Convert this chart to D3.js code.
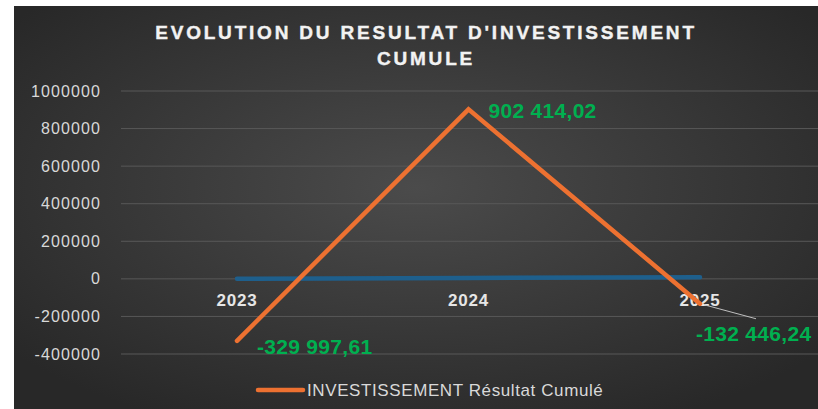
<!DOCTYPE html>
<html>
<head>
<meta charset="utf-8">
<script src="https://cdn.jsdelivr.net/npm/d3@7/dist/d3.min.js"></script>
<style>
  html, body { margin: 0; padding: 0; background: #fff; }
  svg { display: block; }
</style>
</head>
<body>
<div id="chart"></div>
<script>
/* ============================
   DATA
============================ */
const years = ["2023", "2024", "2025"];
const resultatCumule = [-329997.61, 902414.02, -132446.24];
const serieBleue = [0, 5000, 9000];          // 2e série (hors légende), proche de 0
const yTicks = [-400000, -200000, 0, 200000, 400000, 600000, 800000, 1000000];
const labels = ["-329 997,61", "902 414,02", "-132 446,24"];

/* ============================
   LAYOUT
============================ */
const W = 818, H = 409;
const box = { x: 14, y: 6 };
const plot = { left: 121, right: 818, top: 91, bottom: 354 };
const FONT = "'Liberation Sans', Arial, sans-serif";

const svg = d3.select("#chart").append("svg")
  .attr("width", W).attr("height", H);

const defs = svg.append("defs");
const grad = defs.append("radialGradient")
  .attr("id", "bg").attr("cx", "50%").attr("cy", "45%").attr("r", "65%");
grad.append("stop").attr("offset", "0%").attr("stop-color", "#4b4b4b");
grad.append("stop").attr("offset", "100%").attr("stop-color", "#282828");

svg.append("rect")
  .attr("x", box.x).attr("y", box.y)
  .attr("width", W - box.x).attr("height", H - box.y)
  .attr("fill", "url(#bg)");

/* ============================
   SCALES
============================ */
const x = d3.scalePoint().domain(years).range([237, 700]);
const y = d3.scaleLinear().domain([-400000, 1000000]).range([plot.bottom, plot.top]);

// quadrillage
svg.append("g")
  .selectAll("line")
  .data(yTicks)
  .join("line")
  .attr("x1", plot.left).attr("x2", plot.right)
  .attr("y1", d => y(d)).attr("y2", d => y(d))
  .attr("stroke", "#585858").attr("stroke-width", 1);

// axe Y (tiret simple comme Excel)
const yAxis = svg.append("g")
  .attr("transform", `translate(${plot.left - 20},0)`)
  .call(d3.axisLeft(y).tickValues(yTicks).tickSize(0).tickPadding(0).tickFormat(d => String(d)));
yAxis.select(".domain").remove();
yAxis.selectAll("text")
  .attr("fill", "#d9d9d9")
  .attr("font-family", FONT)
  .attr("font-size", 16)
  .attr("letter-spacing", 1.1);

// série bleue
const line = d3.line().x((d, i) => x(years[i])).y(d => y(d));
svg.append("path")
  .datum(serieBleue)
  .attr("d", line)
  .attr("fill", "none")
  .attr("stroke", "#1e5f8c")
  .attr("stroke-width", 4.5)
  .attr("stroke-linecap", "round");

// catégories (sur l'axe zéro)
svg.append("g")
  .selectAll("text")
  .data(years)
  .join("text")
  .attr("x", d => x(d))
  .attr("y", y(0) + 27)
  .attr("text-anchor", "middle")
  .attr("fill", "#e6e6e6")
  .attr("font-family", FONT)
  .attr("font-weight", "bold")
  .attr("font-size", 17)
  .attr("letter-spacing", 0.8)
  .text(d => d);

// série orange
svg.append("path")
  .datum(resultatCumule)
  .attr("d", line)
  .attr("fill", "none")
  .attr("stroke", "#ed7131")
  .attr("stroke-width", 4.5)
  .attr("stroke-linejoin", "miter")
  .attr("stroke-linecap", "round");

// ligne de rappel 2025
const px = x(years[2]), py = y(resultatCumule[2]);
svg.append("line")
  .attr("x1", px + 4).attr("y1", py + 1)
  .attr("x2", px + 56).attr("y2", py + 15)
  .attr("stroke", "#bfbfbf").attr("stroke-width", 1);

// étiquettes de données
const labelPos = [
  { dx: 20, dy: 8 },
  { dx: 20, dy: 3 },
  { dx: -4, dy: 32 }
];
svg.append("g")
  .selectAll("text")
  .data(resultatCumule)
  .join("text")
  .attr("x", (d, i) => x(years[i]) + labelPos[i].dx)
  .attr("y", (d, i) => y(d) + labelPos[i].dy)
  .attr("dominant-baseline", "middle")
  .attr("fill", "#00b050")
  .attr("font-family", FONT)
  .attr("font-weight", "bold")
  .attr("font-size", 21)
  .attr("letter-spacing", 0.3)
  .text((d, i) => labels[i]);

// titre
const title = svg.append("text")
  .attr("text-anchor", "middle")
  .attr("fill", "#f2f2f2")
  .attr("font-family", FONT)
  .attr("font-weight", "bold")
  .attr("font-size", 19)
  .attr("letter-spacing", 2.8)
  .attr("stroke", "#f2f2f2").attr("stroke-width", 0.4);
title.append("tspan").attr("x", 426).attr("y", 39).text("EVOLUTION DU RESULTAT D'INVESTISSEMENT");
title.append("tspan").attr("x", 426).attr("y", 65).text("CUMULE");

// légende
svg.append("line")
  .attr("x1", 258).attr("x2", 303)
  .attr("y1", 390).attr("y2", 390)
  .attr("stroke", "#ed7131").attr("stroke-width", 4.5)
  .attr("stroke-linecap", "round");
svg.append("text")
  .attr("x", 307).attr("y", 396)
  .attr("fill", "#d9d9d9")
  .attr("font-family", FONT)
  .attr("font-size", 17)
  .attr("letter-spacing", 0.6)
  .text("INVESTISSEMENT Résultat Cumulé");
</script>
</body>
</html>
